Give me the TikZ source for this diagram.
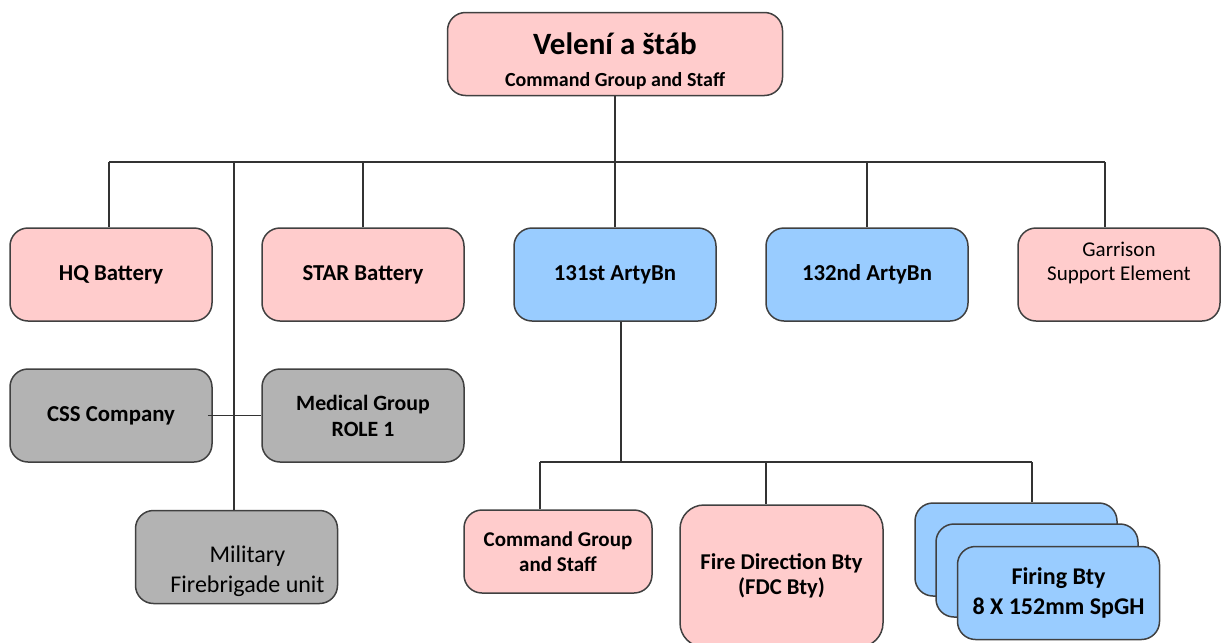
\documentclass[tikz,border=0pt]{standalone}
\usepackage{fontspec}
\setmainfont{Carlito}
\definecolor{unitpink}{RGB}{255,204,204}
\definecolor{unitblue}{RGB}{153,204,255}
\definecolor{unitgray}{RGB}{179,179,179}
\definecolor{edgegray}{RGB}{64,64,64}
\usetikzlibrary{positioning}

\begin{document}
\begin{tikzpicture}[
  x=0.5pt, y=0.5pt,
  node distance=24.25pt,
  unit/.style={rectangle, rounded corners=9pt, draw=edgegray, line width=0.75pt, minimum width=101pt, minimum height=46.5pt, inner sep=0pt, align=center, font=\bfseries\fontsize{11.4}{13}\selectfont},
  pinkunit/.style={unit, fill=unitpink},
  blueunit/.style={unit, fill=unitblue},
  grayunit/.style={unit, fill=unitgray},
  unittext/.style={align=center, inner sep=0pt},
  link/.style={draw=black!80, line width=0.75pt}
]
  \useasboundingbox (0,0) rectangle (1222,-643);

  % battalion-level units
  \node[pinkunit] (hq) at (111,-274.5) {HQ Battery};
  \node[pinkunit, right=of hq] (star) {STAR Battery};
  \node[blueunit, right=of star] (bn131) {131st ArtyBn};
  \node[blueunit, right=of bn131] (bn132) {132nd ArtyBn};
  \node[pinkunit, right=of bn132, label={[unittext, font=\fontsize{10.5}{12}\selectfont, yshift=6pt]center:{Garrison\\Support Element}}] (gse) {};

  \node[pinkunit, minimum width=167.5pt, minimum height=41.5pt, above=65.5pt of bn131, label={[unittext, font=\bfseries\fontsize{10}{16}\selectfont, yshift=-3.5pt]center:{{\fontsize{15.5}{18}\selectfont Velení a štáb}\\Command Group and Staff}}] (cmd) {};

  % support units
  \node[grayunit, below=23.25pt of hq] (css) {CSS Company};
  \node[grayunit, below=23.25pt of star, font=\bfseries\fontsize{10.9}{13}\selectfont] (med) {Medical Group\\ROLE 1};
  \node[grayunit, label={[unittext, font=\fontsize{12}{15}\selectfont, xshift=5.5pt, yshift=-7pt]center:{Military\\Firebrigade unit}}] (fire) at (236.5,-557) {};

  % 131st ArtyBn subunits
  \node[pinkunit, minimum width=94pt, minimum height=41.5pt, font=\bfseries\fontsize{10.5}{12.5}\selectfont] (cgs) at (558,-551.5) {Command Group\\and Staff};
  \node[pinkunit, rounded corners=12pt, minimum width=101.5pt, minimum height=71pt, font=\bfseries\fontsize{11.3}{12.5}\selectfont] (fdc) at (781.5,-576) {Fire Direction Bty\\(FDC Bty)};
  \node[blueunit] (fb1) at (1016,-549.5) {};
  \node[blueunit] (fb2) at (1037,-570.5) {};
  \node[blueunit, font=\bfseries\fontsize{12}{15}\selectfont] (fb3) at (1058.5,-593) {Firing Bty\\8 X 152mm SpGH};

  % bus lines
  \coordinate (busL) at (109,-162);
  \coordinate (busR) at (1105,-162);
  \coordinate (spine) at (234,-162);
  \coordinate (subbus) at (621,-462);
  \coordinate (subL) at (540,-462);
  \coordinate (subM) at (766,-462);
  \coordinate (subR) at (1032,-462);

  \draw[link] (cmd) -- (cmd |- busL);
  \draw[link] (busL) -- (busR);
  \draw[link] (busL) -- (busL |- hq.north);
  \draw[link] (star) -- (star |- busL);
  \draw[link] (bn131) -- (bn131 |- busL);
  \draw[link] (bn132) -- (bn132 |- busL);
  \draw[link] (busR) -- (busR |- gse.north);
  \draw[link] (spine) -- (spine |- fire.north);
  \draw[link] ([xshift=-2.5pt]css.east) -- (med.west);

  \draw[link] (subbus |- bn131.south) -- (subbus);
  \draw[link] (subL) -- (subR);
  \draw[link] (subL) -- (subL |- cgs.north);
  \draw[link] (subM) -- (subM |- fdc.north);
  \draw[link] (subR) -- (subR |- fb1.north);
\end{tikzpicture}
\end{document}
